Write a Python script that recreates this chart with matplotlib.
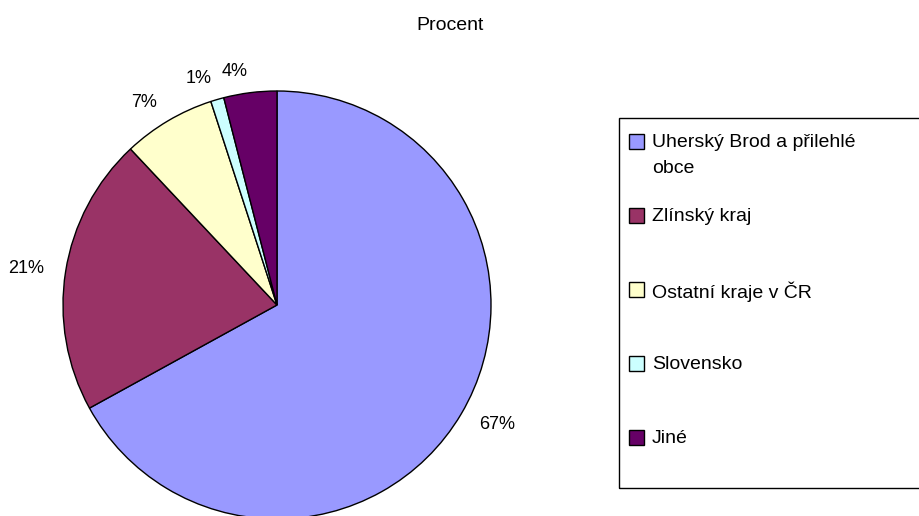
import matplotlib
matplotlib.use('Agg')
import matplotlib.pyplot as plt
from matplotlib.patches import Rectangle

plt.rcParams['font.family'] = ['Liberation Sans', 'DejaVu Sans']

# data
kategorie = ['Uherský Brod a přilehlé\nobce', 'Zlínský kraj', 'Ostatní kraje v ČR', 'Slovensko', 'Jiné']
procenta = [67, 21, 7, 1, 4]
barvy = ['#9999FF', '#993366', '#FFFFCC', '#CCFFFF', '#660066']
nadpis = 'Procent'

# rozmery v pixelech
W, H = 919, 516
cx, cy = 277, H - 305

fig = plt.figure(figsize=(W / 100, H / 100), dpi=100)
ax = fig.add_axes([0, 0, 1, 1])

# kolac - stred a polomer v pixelech
wedges, texts, autotexts = ax.pie(
    procenta, colors=barvy, startangle=90, counterclock=False,
    radius=214, center=(cx, cy),
    autopct='%.0f%%', pctdistance=1.1,
    wedgeprops=dict(edgecolor='black', linewidth=1.0),
    textprops=dict(fontsize=13, color='black'))

# popisky jako v Excelu: vlevo zarovnat doprava, vpravo doleva
for t in autotexts:
    x, y = t.get_position()
    t.set_ha('left' if x > cx else 'right')

ax.set_xlim(0, W)
ax.set_ylim(0, H)
ax.set_aspect('auto')
ax.axis('off')

ax.text(450, H - 26, nadpis, ha='center', va='center', fontsize=14)

# legenda (rucne, aby sedely radky jako v Excelu)
ax.add_patch(Rectangle((619, H - 488), 400, 370, fill=False,
                       edgecolor='black', linewidth=1.0, clip_on=False))
for i, (lab, c) in enumerate(zip(kategorie, barvy)):
    yc = H - (141 + 74 * i)
    ax.add_patch(Rectangle((629, yc - 7.5), 15, 15, facecolor=c,
                           edgecolor='black', linewidth=1.0))
    ax.text(652, yc + 7, lab, fontsize=14, va='top', linespacing=1.7)

fig.savefig('out.png', dpi=100)
